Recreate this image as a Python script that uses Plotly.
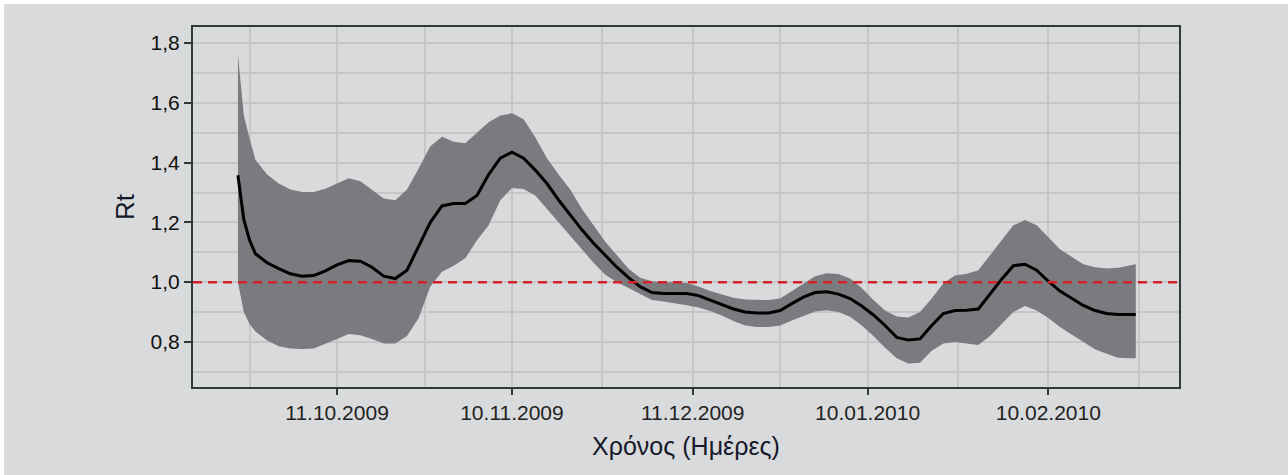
import datetime as dt
import plotly.graph_objects as go

# ---- data ----
day_offsets = [-17, -16, -15, -14, -12, -10, -8, -6, -4, -2, 0, 2, 4, 6, 8, 10, 12, 14, 16, 18,
               20, 22, 24, 26, 28, 30, 32, 34, 36, 38, 40, 42, 44, 46, 48, 50, 52, 54, 56, 58,
               60, 62, 64, 66, 68, 70, 72, 74, 76, 78, 80, 82, 84, 86, 88, 90, 92, 94, 96, 98,
               100, 102, 104, 106, 108, 110, 112, 114, 116, 118, 120, 122, 124, 126, 128, 130,
               132, 134, 136, 137]
base_date = dt.date(2009, 10, 11)
dates = [(base_date + dt.timedelta(days=d)).isoformat() for d in day_offsets]

rt_mean = [1.358, 1.21, 1.14, 1.095, 1.065, 1.045, 1.028, 1.02, 1.022, 1.038, 1.058, 1.072, 1.07,
           1.05, 1.02, 1.012, 1.04, 1.12, 1.20, 1.255, 1.263, 1.263, 1.29, 1.36, 1.415, 1.435,
           1.415, 1.375, 1.33, 1.275, 1.225, 1.175, 1.13, 1.09, 1.05, 1.015, 0.985, 0.965, 0.962,
           0.962, 0.962, 0.955, 0.94, 0.925, 0.91, 0.90, 0.897, 0.897, 0.905, 0.928, 0.95, 0.965,
           0.968, 0.96, 0.945, 0.92, 0.89, 0.855, 0.815, 0.806, 0.81, 0.855, 0.895, 0.905, 0.906,
           0.91, 0.96, 1.01, 1.055, 1.06, 1.04, 1.003, 0.97, 0.945, 0.922, 0.905, 0.895, 0.892,
           0.892, 0.892]
rt_upper = [1.76, 1.56, 1.48, 1.41, 1.36, 1.33, 1.31, 1.302, 1.302, 1.313, 1.33, 1.348, 1.338,
            1.31, 1.28, 1.274, 1.31, 1.38, 1.455, 1.487, 1.47, 1.465, 1.50, 1.535, 1.558, 1.565,
            1.545, 1.485, 1.415, 1.36, 1.31, 1.245, 1.19, 1.135, 1.09, 1.045, 1.015, 1.003, 1.0,
            1.0, 0.997, 0.985, 0.97, 0.958, 0.948, 0.942, 0.94, 0.94, 0.945, 0.97, 0.995, 1.02,
            1.03, 1.027, 1.012, 0.98, 0.94, 0.905, 0.885, 0.882, 0.90, 0.945, 0.996, 1.022, 1.028,
            1.04, 1.09, 1.14, 1.19, 1.208, 1.19, 1.15, 1.11, 1.085, 1.06, 1.05, 1.046, 1.048,
            1.055, 1.06]
rt_lower = [1.0, 0.90, 0.86, 0.835, 0.805, 0.785, 0.778, 0.776, 0.778, 0.795, 0.81, 0.826, 0.822,
            0.81, 0.795, 0.795, 0.82, 0.88, 0.985, 1.035, 1.055, 1.08, 1.14, 1.19, 1.274, 1.315,
            1.312, 1.29, 1.245, 1.20, 1.155, 1.11, 1.065, 1.025, 1.0, 0.98, 0.96, 0.94, 0.935,
            0.93, 0.923, 0.915, 0.903, 0.888, 0.87, 0.855, 0.85, 0.85, 0.855, 0.872, 0.888, 0.902,
            0.906, 0.90, 0.884, 0.855, 0.82, 0.78, 0.745, 0.728, 0.73, 0.77, 0.795, 0.80, 0.795,
            0.79, 0.82, 0.86, 0.90, 0.92, 0.905, 0.88, 0.85, 0.825, 0.80, 0.775, 0.76, 0.747,
            0.745, 0.745]

x_tick_vals = ["2009-10-11", "2009-11-10", "2009-12-11", "2010-01-10", "2010-02-10"]
x_tick_text = ["11.10.2009", "10.11.2009", "11.12.2009", "10.01.2010", "10.02.2010"]
x_minor_vals = ["2009-09-26", "2009-10-26", "2009-11-25 12:00", "2009-12-26",
                "2010-01-25 12:00", "2010-02-25 12:00"]
y_tick_vals = [0.8, 1.0, 1.2, 1.4, 1.6, 1.8]
y_tick_text = ["0,8", "1,0", "1,2", "1,4", "1,6", "1,8"]
y_minor_vals = [0.7, 0.9, 1.1, 1.3, 1.5, 1.7]
threshold = 1.0

# ---- styling ----
BG = "#d9dadc"
GRID = "#c5c6c8"
FRAME = "#2f3a39"
BAND = "#7a7b7e"
FONT = "Liberation Sans, Arial, Helvetica, sans-serif"

fig = go.Figure()
fig.add_trace(go.Scatter(x=dates, y=rt_upper, mode="lines", line=dict(width=0),
                         hoverinfo="skip", showlegend=False))
fig.add_trace(go.Scatter(x=dates, y=rt_lower, mode="lines", line=dict(width=0),
                         fill="tonexty", fillcolor=BAND, hoverinfo="skip", showlegend=False))
fig.add_trace(go.Scatter(x=dates, y=rt_mean, mode="lines",
                         line=dict(color="black", width=3), showlegend=False))

fig.add_hline(y=threshold, line=dict(color="#d6202a", width=2.5, dash="9px,6px"))

# outer background panel (thin white border at top-left of the original image)
W, H = 1288, 475
L, R, T, B = 193, 109, 27, 88
pw, ph = W - L - R, H - T - B
fig.add_shape(type="rect", xref="paper", yref="paper", layer="below",
              x0=(4 - L) / pw, x1=(W - L) / pw,
              y0=(H - B - H) / ph, y1=(H - B - 4) / ph,
              fillcolor=BG, line=dict(width=0))

fig.update_layout(
    width=W, height=H,
    margin=dict(l=L, r=R, t=T, b=B, pad=0),
    paper_bgcolor="white",
    plot_bgcolor=BG,
    font=dict(family=FONT, color="#1e1e1e"),
    showlegend=False,
)
fig.update_xaxes(
    type="date",
    range=["2009-09-16 07:00", "2010-03-04 10:00"],
    tickmode="array", tickvals=x_tick_vals, ticktext=x_tick_text,
    tickfont=dict(size=21, color="#222222"),
    ticks="outside", ticklen=6, tickwidth=2, tickcolor=FRAME,
    showgrid=True, gridcolor=GRID, gridwidth=1.5,
    minor=dict(tickmode="array", tickvals=x_minor_vals, showgrid=True,
               gridcolor=GRID, gridwidth=1.5, ticks=""),
    showline=True, linecolor=FRAME, linewidth=2, mirror=True,
    zeroline=False,
    title=dict(text="Χρόνος (Ημέρες)", font=dict(size=25, color="#15192a"), standoff=14),
)
fig.update_yaxes(
    range=[0.649, 1.854],
    tickmode="array", tickvals=y_tick_vals, ticktext=y_tick_text,
    tickfont=dict(size=21, color="#111111"),
    ticks="outside", ticklen=7, tickwidth=2, tickcolor=FRAME,
    showgrid=True, gridcolor=GRID, gridwidth=1.5,
    minor=dict(tickmode="array", tickvals=y_minor_vals, showgrid=True,
               gridcolor=GRID, gridwidth=1.5, ticks=""),
    showline=True, linecolor=FRAME, linewidth=2, mirror=True,
    zeroline=False,
    title=dict(text="Rt", font=dict(size=26, color="#15192a"), standoff=8),
)

fig.write_html("out.html", config={"displayModeBar": False},
               post_script="document.body.style.margin='0px';")
